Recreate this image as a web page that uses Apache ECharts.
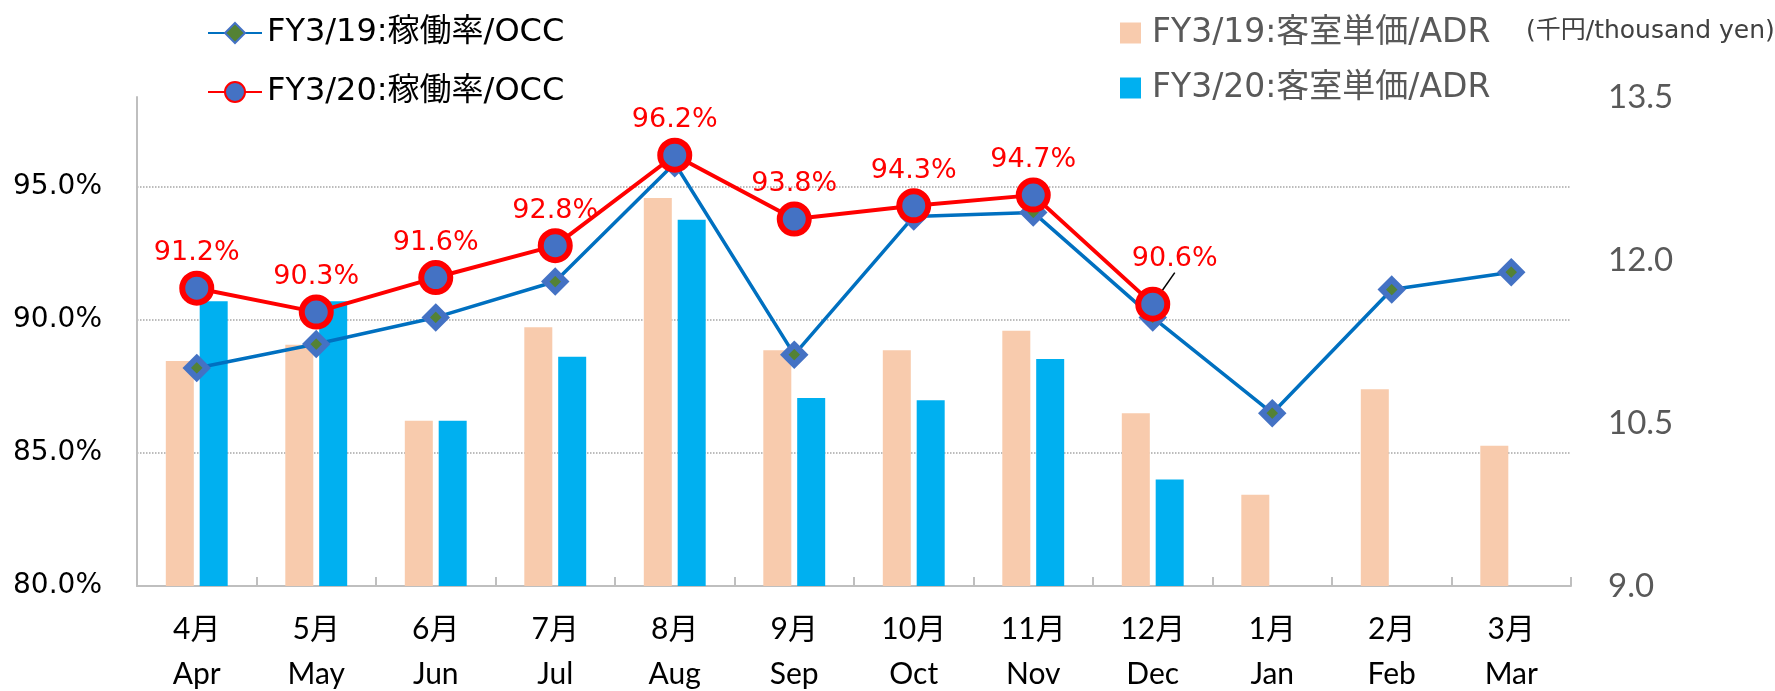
<!DOCTYPE html>
<html>
<head>
<meta charset="utf-8">
<script src="https://cdn.jsdelivr.net/npm/echarts@6/dist/echarts.min.js"></script>
<style>
html,body{margin:0;padding:0;background:#fff;}
#chart{width:1775px;height:691px;}
</style>
</head>
<body>
<div id="chart"></div>
<script>
// 月（横軸）
let months_jp = ['4月', '5月', '6月', '7月', '8月', '9月', '10月', '11月', '12月', '1月', '2月', '3月'];
let months_en = ['Apr', 'May', 'Jun', 'Jul', 'Aug', 'Sep', 'Oct', 'Nov', 'Dec', 'Jan', 'Feb', 'Mar'];

// 稼働率/OCC (%)
let occ_fy19 = [88.2, 89.1, 90.1, 91.45, 95.9, 88.7, 93.9, 94.05, 90.1, 86.5, 91.15, 91.8];
let occ_fy20 = [91.2, 90.3, 91.6, 92.8, 96.2, 93.8, 94.3, 94.7, 90.6, null, null, null];

// 客室単価/ADR (千円)
let adr_fy19 = [11.07, 11.22, 10.52, 11.38, 12.57, 11.17, 11.17, 11.35, 10.59, 9.84, 10.81, 10.29];
let adr_fy20 = [11.62, 11.62, 10.52, 11.11, 12.37, 10.73, 10.71, 11.09, 9.98, 0, 0, 0];

let name_occ19 = 'FY3/19:稼働率/OCC';
let name_occ20 = 'FY3/20:稼働率/OCC';
let name_adr19 = 'FY3/19:客室単価/ADR';
let name_adr20 = 'FY3/20:客室単価/ADR';

let axisGrey = '#BFBFBF';
let wideFont = '"DejaVu Sans", "Noto Sans CJK JP", sans-serif';
let narrowFont = 'Lato, "Noto Sans CJK JP", sans-serif';

// 12月だけラベルを引き出し線付きで右上へ
let occ_fy20_items = occ_fy20.map((v, i) => {
    if (i === 8) {
        return { value: v, labelLine: { show: true, lineStyle: { color: '#000', width: 1.5 } } };
    }
    return v;
});

let ec = echarts.init(document.getElementById('chart'));

let options = {
    backgroundColor: '#fff',
    animation: false,
    title: {
        text: '(千円/thousand yen)',
        left: 1521,
        top: 14,
        textStyle: {
            color: '#404040',
            fontSize: 25,
            fontWeight: 'normal',
            fontFamily: wideFont
        }
    },
    legend: [
        {
            data: [name_occ19, name_occ20],
            orient: 'vertical',
            left: 202,
            top: 11,
            itemWidth: 54,
            itemHeight: 25,
            itemGap: 25,
            textStyle: {
                color: '#000',
                fontSize: 32,
                lineHeight: 34,
                fontFamily: wideFont
            }
        },
        {
            data: [name_adr19, name_adr20],
            orient: 'vertical',
            left: 1115,
            top: 11,
            icon: 'rect',
            itemWidth: 21,
            itemHeight: 21,
            itemGap: 21,
            textStyle: {
                color: '#595959',
                fontSize: 33,
                lineHeight: 34,
                fontFamily: wideFont,
                padding: [0, 0, 0, 6]
            }
        }
    ],
    grid: {
        left: 137,
        right: 204,
        top: 97,
        bottom: 105,
        outerBoundsMode: 'none',
        containLabel: false
    },
    xAxis: {
        type: 'category',
        data: months_jp,
        boundaryGap: true,
        axisLine: {
            show: true,
            lineStyle: { color: axisGrey, width: 2 }
        },
        axisTick: {
            show: true,
            inside: true,
            length: 9,
            lineStyle: { color: axisGrey, width: 2 }
        },
        axisLabel: {
            interval: 0,
            margin: 21,
            color: '#000',
            fontSize: 30,
            lineHeight: 45,
            fontFamily: narrowFont,
            formatter: (val, idx) => val + '\n' + months_en[idx]
        }
    },
    yAxis: [
        {
            type: 'value',
            min: 80,
            max: 98.39,
            interval: 5,
            axisLine: {
                show: true,
                lineStyle: { color: axisGrey, width: 2 }
            },
            axisTick: { show: false },
            splitLine: {
                show: true,
                showMinLine: false,
                showMaxLine: false,
                lineStyle: { color: '#A6A6A6', type: 'dotted', width: 1.5 }
            },
            axisLabel: {
                margin: 35,
                showMaxLabel: false,
                color: '#000',
                fontSize: 28,
                fontFamily: wideFont,
                formatter: (v) => (v % 5 === 0 ? v.toFixed(1) + '%' : '')
            }
        },
        {
            type: 'value',
            min: 9,
            max: 13.5,
            interval: 1.5,
            position: 'right',
            axisLine: { show: false },
            axisTick: { show: false },
            splitLine: { show: false },
            axisLabel: {
                margin: 37,
                color: '#595959',
                fontSize: 33,
                fontFamily: narrowFont,
                formatter: (v) => v.toFixed(1)
            }
        }
    ],
    series: [
        {
            name: name_adr19,
            type: 'bar',
            yAxisIndex: 1,
            barWidth: 28,
            barGap: '21%',
            itemStyle: { color: '#F8CBAD' },
            data: adr_fy19
        },
        {
            name: name_adr20,
            type: 'bar',
            yAxisIndex: 1,
            barWidth: 28,
            barGap: '21%',
            itemStyle: { color: '#00B0F0' },
            data: adr_fy20
        },
        {
            name: name_occ19,
            type: 'line',
            yAxisIndex: 0,
            symbol: 'diamond',
            symbolSize: 20,
            lineStyle: { color: '#0070C0', width: 3.5 },
            itemStyle: {
                color: '#548235',
                borderColor: '#4472C4',
                borderWidth: 6
            },
            z: 3,
            data: occ_fy19
        },
        {
            name: name_occ20,
            type: 'line',
            yAxisIndex: 0,
            symbol: 'circle',
            symbolSize: 29,
            lineStyle: { color: '#FF0000', width: 4 },
            itemStyle: {
                color: '#4472C4',
                borderColor: '#FF0000',
                borderWidth: 6
            },
            label: {
                show: true,
                position: 'top',
                distance: 4,
                color: '#FF0000',
                fontSize: 27,
                fontFamily: wideFont,
                formatter: (p) => p.value.toFixed(1) + '%'
            },
            labelLine: { show: false },
            labelLayout: (params) => {
                if (params.dataIndex === 8) {
                    return { dx: 22, dy: -10 };
                }
                return {};
            },
            z: 4,
            data: occ_fy20_items
        }
    ]
};

ec.setOption(options);
</script>
</body>
</html>
